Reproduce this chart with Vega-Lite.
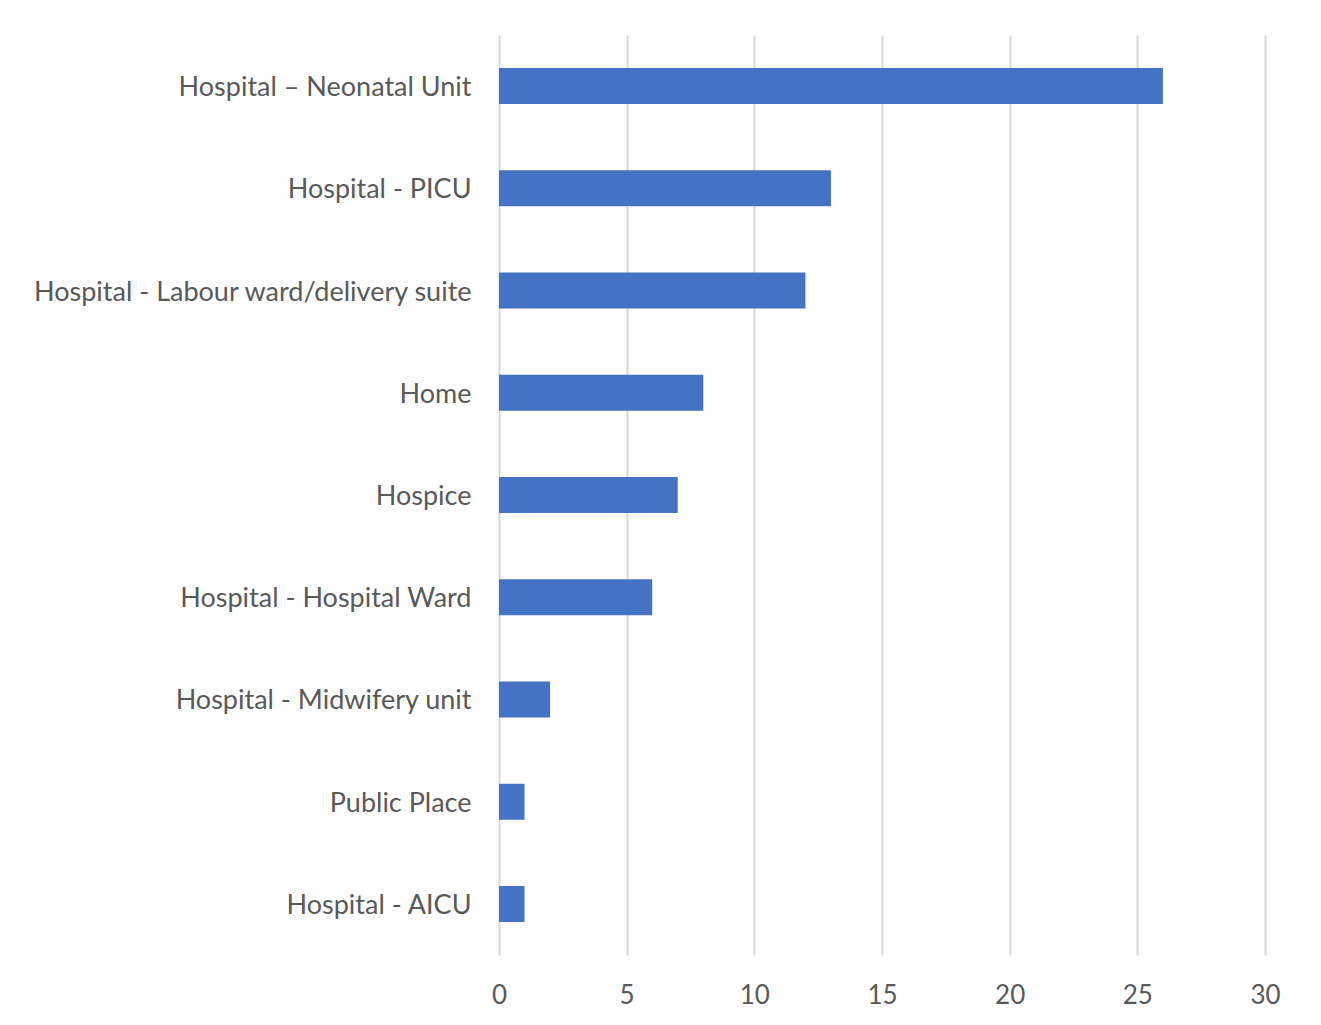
{
  "$schema": "https://vega.github.io/schema/vega-lite/v6.json",
  "width": 766,
  "height": 920,
  "autosize": "none",
  "padding": {"left": 499, "top": 35, "right": 56, "bottom": 70},
  "background": "#FFFFFF",
  "data": {
    "values": [
      {"place": "Hospital – Neonatal Unit", "count": 26},
      {"place": "Hospital - PICU", "count": 13},
      {"place": "Hospital - Labour ward/delivery suite", "count": 12},
      {"place": "Home", "count": 8},
      {"place": "Hospice", "count": 7},
      {"place": "Hospital - Hospital Ward", "count": 6},
      {"place": "Hospital - Midwifery unit", "count": 2},
      {"place": "Public Place", "count": 1},
      {"place": "Hospital - AICU", "count": 1}
    ]
  },
  "mark": {"type": "bar", "color": "#4472C4"},
  "encoding": {
    "y": {
      "field": "place",
      "type": "nominal",
      "sort": null,
      "scale": {"paddingInner": 0.648, "paddingOuter": 0.324},
      "axis": {
        "title": null,
        "domain": false,
        "ticks": false,
        "labelPadding": 28,
        "labelFont": "Lato",
        "labelFontSize": 27,
        "labelColor": "#595959",
        "labelLimit": 600,
        "labelOffset": 2
      }
    },
    "x": {
      "field": "count",
      "type": "quantitative",
      "scale": {"domain": [0, 30], "nice": false},
      "axis": {
        "title": null,
        "values": [0, 5, 10, 15, 20, 25, 30],
        "domain": false,
        "ticks": false,
        "grid": true,
        "gridColor": "#D9D9D9",
        "gridWidth": 2,
        "labelPadding": 27,
        "labelFont": "Lato",
        "labelFontSize": 26,
        "labelColor": "#595959",
        "labelFlush": false
      }
    }
  },
  "config": {"view": {"stroke": null}}
}
